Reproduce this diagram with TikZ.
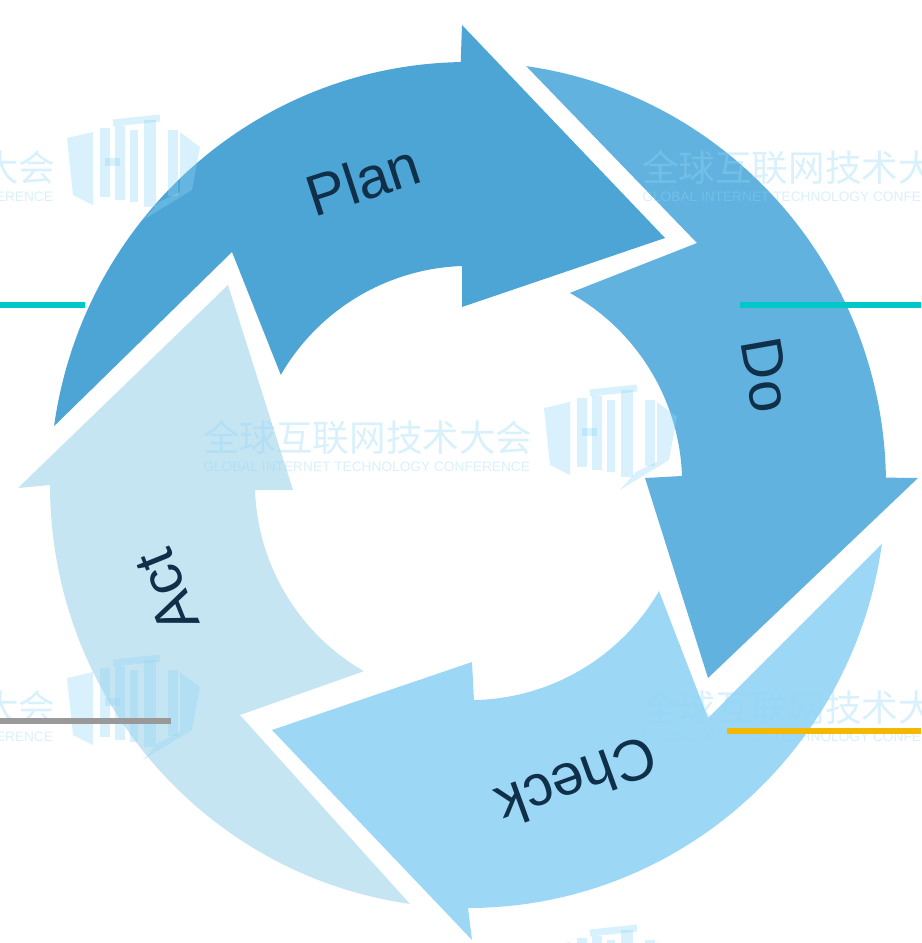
\documentclass[tikz,border=0pt]{standalone}
\usepackage{fontspec}
\setmainfont{Liberation Sans}
\newfontfamily\cjkfont{Noto Sans CJK SC}
\definecolor{plancol}{HTML}{4DA5D6}
\definecolor{docol}{HTML}{62B2E0}
\definecolor{checkcol}{HTML}{9CD8F6}
\definecolor{actcol}{HTML}{C6E5F3}
\definecolor{labelcol}{HTML}{10304A}
\definecolor{markcol}{HTML}{8FD6F5}
\definecolor{tealcol}{HTML}{00C8C8}
\definecolor{goldcol}{HTML}{F5B800}
\definecolor{greycol}{HTML}{999999}
\tikzset{
	steplabel/.style={text=labelcol, font=\fontsize{33}{33}\selectfont, inner sep=0pt},
	leadline/.style={line width=2.9pt},
	wmark/.pic={
		\begin{scope}[opacity=0.35]
		\node[anchor=west, inner sep=0pt, text=markcol, font=\cjkfont\fontsize{20.8}{20.8}\selectfont] (cn) at (0,18) {全球互联网技术大会};
		\node[anchor=west, inner sep=0pt, text=markcol, font=\fontsize{7.8}{7.8}\selectfont] (en) at (0,47) {GLOBAL INTERNET TECHNOLOGY CONFERENCE};
		\fill[markcol] (341,-12) -- (367,-18) -- (367,55) -- (347,45) -- cycle;
		\fill[markcol] (454,-18) -- (474,-3) -- (466,40) -- (417,70) -- (433,52) -- (454,42) -- cycle;
		\draw[markcol, line width=5.4pt] (379,-22) -- (379,47);
		\draw[markcol, line width=4pt] (379,12) -- (394,12);
		\draw[markcol, line width=5.4pt] (394,-24) -- (394,50);
		\draw[markcol, line width=4pt] (408,-20) -- (408,52);
		\draw[markcol, line width=4pt] (387,-27) -- (434,-32);
		\draw[markcol, line width=7pt] (424,-30) -- (424,57);
		\draw[markcol, line width=5.4pt] (447,-20) -- (447,46);
		\end{scope}
	}
}
\begin{document}
\begin{tikzpicture}[x=0.02cm, y=-0.02cm]
	\useasboundingbox (0,0) rectangle (921,943);
	\coordinate (cc) at (468,485);

	%% Pfeile
	\fill[plancol] (cc) ++(188:418 and 423) arc[start angle=188, end angle=269, x radius=418, y radius=423]
		-- (462,25) -- (665,238) -- (462,307) -- (462,266)
		arc[start angle=268, end angle=210, radius=218] -- (232,252) -- cycle;
	\fill[docol] (cc) ++(278:418 and 423) arc[start angle=278, end angle=359, x radius=418, y radius=423]
		-- (918,478) -- (708,678) -- (645,478) -- (682,476)
		arc[start angle=358, end angle=299, radius=218] -- (697,243) -- cycle;
	\fill[checkcol] (cc) ++(8:418 and 423) arc[start angle=8, end angle=90, x radius=418, y radius=423]
		-- (472,940) -- (272,730) -- (472,662) -- (474,700)
		arc[start angle=89, end angle=30, radius=218] -- (708,718) -- cycle;
	\fill[actcol] (cc) ++(98:418 and 423) arc[start angle=98, end angle=180, x radius=418, y radius=423]
		-- (18,488) -- (228,285) -- (293,490) -- (255,490)
		arc[start angle=178, end angle=120, radius=218] -- (240,715) -- cycle;

	%% Beschriftung
	\node[steplabel, rotate=18] (plan) at (363,180) {Plan};
	\node[steplabel, rotate=-80] (do) at (766,375) {Do};
	\node[steplabel, rotate=200] (check) at (577,782) {Check};
	\node[steplabel, rotate=112] (act) at (167,592) {Act};

	%% Wasserzeichen
	\pic (wma) at (-274,150) {wmark};
	\pic (wmb) at (642,150) {wmark};
	\pic (wmc) at (203,420) {wmark};
	\pic (wmd) at (-274,690) {wmark};
	\pic (wme) at (642,690) {wmark};
	\pic (wmf) at (203,960) {wmark};

	%% Linien
	\draw[leadline, tealcol] (0,305) -- (85,305);
	\draw[leadline, tealcol] (740,305) -- (921,305);
	\draw[leadline, greycol] (0,721) -- (171,721);
	\draw[leadline, goldcol] (727,731) -- (921,731);
\end{tikzpicture}
\end{document}
